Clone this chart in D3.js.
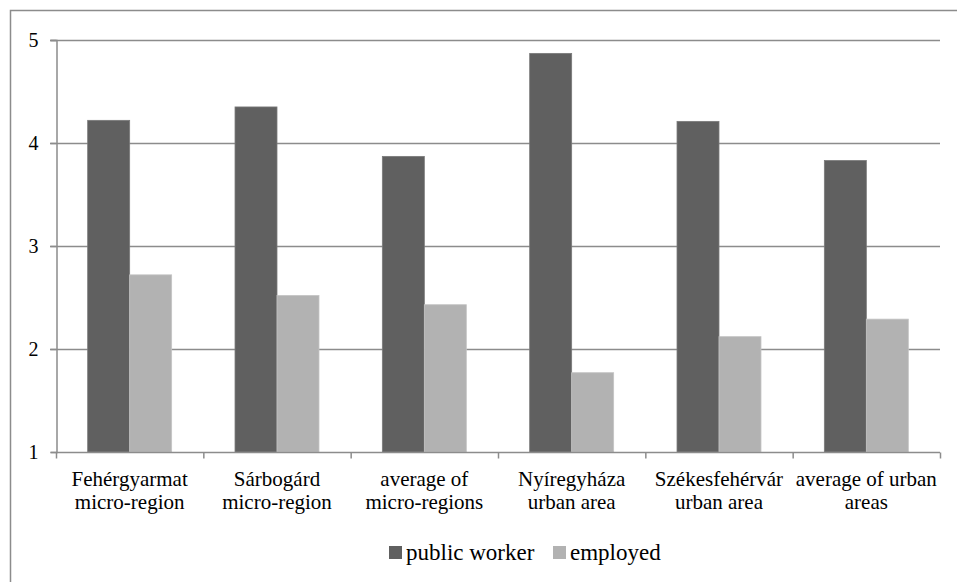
<!DOCTYPE html>
<html>
<head>
<meta charset="utf-8">
<script src="https://cdn.jsdelivr.net/npm/d3@7"></script>
<style>
html,body{margin:0;padding:0;background:#fff;}
svg{display:block;}
</style>
</head>
<body>
<svg id="chart" width="957" height="582"></svg>
<script>
const categories = [
  ["Fehérgyarmat", "micro-region"],
  ["Sárbogárd", "micro-region"],
  ["average of", "micro-regions"],
  ["Nyíregyháza", "urban area"],
  ["Székesfehérvár", "urban area"],
  ["average of urban", "areas"]
];
const seriesNames = ["public worker", "employed"];
const publicWorker = [4.22, 4.35, 3.87, 4.87, 4.21, 3.83];
const employed = [2.72, 2.52, 2.43, 1.77, 2.12, 2.29];
const yTicks = [1, 2, 3, 4, 5];
const colors = ["#606060", "#b2b2b2"];

const FONT = "'Liberation Serif', 'Times New Roman', serif";
const svg = d3.select("#chart").attr("font-family", FONT);
const W = 957, H = 582;
const plot = {left: 56, right: 940, top: 40, bottom: 452};

// outer chart border (extends beyond the picture at right and bottom)
svg.append("rect")
  .attr("x", 10.5).attr("y", 10.5)
  .attr("width", W + 20).attr("height", H + 20)
  .attr("fill", "none").attr("stroke", "#8c8c8c").attr("stroke-width", 1.5);

const catKeys = categories.map((c, i) => i);
const x = d3.scaleBand().domain(catKeys).range([plot.left, plot.right]).paddingInner(0.43).paddingOuter(0.215);
const x1 = d3.scaleBand().domain([0, 1]).range([0, x.bandwidth()]);
const y = d3.scaleLinear().domain([1, 5]).range([plot.bottom, plot.top]);

// gridlines
svg.append("g").selectAll("line").data(yTicks.filter(t => t !== 1)).join("line")
  .attr("x1", plot.left - 6).attr("x2", plot.right)
  .attr("y1", d => Math.round(y(d)) + 0.5).attr("y2", d => Math.round(y(d)) + 0.5)
  .attr("stroke", "#8c8c8c").attr("stroke-width", 1.5);

// bars
const data = [publicWorker, employed];
const groups = svg.append("g").selectAll("g").data(catKeys).join("g")
  .attr("transform", d => `translate(${x(d)},0)`);
groups.selectAll("rect").data(i => data.map((s, k) => ({k, v: s[i]}))).join("rect")
  .attr("x", d => x1(d.k))
  .attr("y", d => y(d.v))
  .attr("width", x1.bandwidth())
  .attr("height", d => y(1) - y(d.v))
  .attr("fill", d => colors[d.k])
  .attr("stroke", d => d.k === 0 ? "#7a7a7a" : "#c4c4c4")
  .attr("stroke-width", 0.8);

// y axis
const yAxis = d3.axisLeft(y).tickValues(yTicks).tickSize(6).tickPadding(12).tickFormat(d3.format("d"));
const yg = svg.append("g").attr("transform", `translate(${plot.left + 0.5},0)`).call(yAxis)
  .attr("font-family", FONT).attr("font-size", 20);
yg.select(".domain").attr("stroke", "#8c8c8c").attr("stroke-width", 1.5);
yg.selectAll(".tick line").attr("stroke", "#8c8c8c").attr("stroke-width", 1.5);
yg.selectAll(".tick text").attr("fill", "#000");

// x axis with ticks at category boundaries
const xAxisY = Math.round(y(1)) + 0.5;
const bounds = d3.range(categories.length + 1).map(i => plot.left + i * (plot.right - plot.left) / categories.length);
svg.append("line").attr("x1", plot.left).attr("x2", plot.right)
  .attr("y1", xAxisY).attr("y2", xAxisY).attr("stroke", "#8c8c8c").attr("stroke-width", 1.5);
svg.append("g").selectAll("line").data(bounds).join("line")
  .attr("x1", d => d + 0.5).attr("x2", d => d + 0.5)
  .attr("y1", xAxisY).attr("y2", xAxisY + 6)
  .attr("stroke", "#8c8c8c").attr("stroke-width", 1.5);

// category labels
const lab = svg.append("g").selectAll("text").data(catKeys).join("text")
  .attr("x", d => x(d) + x.bandwidth() / 2)
  .attr("y", 486)
  .attr("text-anchor", "middle")
  .attr("font-size", 21);
lab.selectAll("tspan").data(d => categories[d]).join("tspan")
  .attr("x", function() { return d3.select(this.parentNode).attr("x"); })
  .attr("dy", (d, i) => i === 0 ? 0 : 23)
  .text(d => d);

// legend
const leg = svg.append("g");
const legItems = [{name: seriesNames[0], c: colors[0], x: 389}, {name: seriesNames[1], c: colors[1], x: 553}];
legItems.forEach(it => {
  leg.append("rect").attr("x", it.x).attr("y", 546).attr("width", 13).attr("height", 13).attr("fill", it.c);
  leg.append("text").attr("x", it.x + 17).attr("y", 560).attr("font-size", 23).text(it.name);
});
</script>
</body>
</html>
